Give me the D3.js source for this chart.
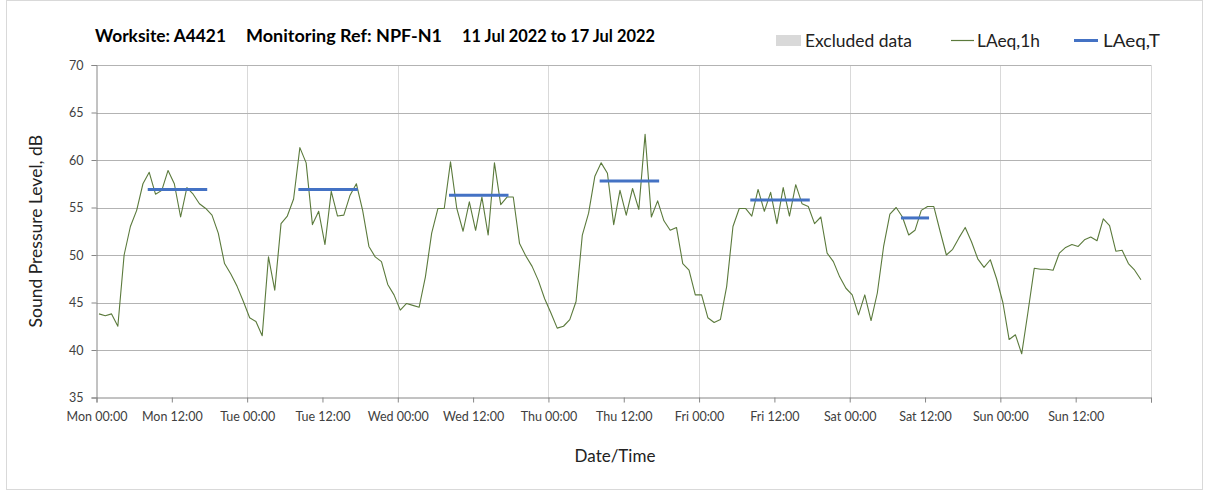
<!DOCTYPE html>
<html>
<head>
<meta charset="utf-8">
<script src="https://cdn.jsdelivr.net/npm/d3@7"></script>
<style>
  html, body { margin: 0; padding: 0; background: #fff; }
  svg { display: block; font-family: Lato, "Open Sans", sans-serif; }
</style>
</head>
<body>
<svg id="chart" width="1208" height="492"></svg>
<script>
// ---------- data ----------
const titleParts = ["Worksite: A4421", "Monitoring Ref: NPF-N1", "11 Jul 2022 to 17 Jul 2022"];
const dayNames = ["Mon", "Tue", "Wed", "Thu", "Fri", "Sat", "Sun"];
const tickHours = [0, 12, 24, 36, 48, 60, 72, 84, 96, 108, 120, 132, 144, 156];
const tickLabels = ["Mon 00:00", "Mon 12:00", "Tue 00:00", "Tue 12:00", "Wed 00:00", "Wed 12:00",
  "Thu 00:00", "Thu 12:00", "Fri 00:00", "Fri 12:00", "Sat 00:00", "Sat 12:00", "Sun 00:00", "Sun 12:00"];
const yTicks = [35, 40, 45, 50, 55, 60, 65, 70];
const legendLabels = ["Excluded data", "LAeq,1h", "LAeq,T"];

// hourly LAeq,1h values (dB), Mon 00:00 onward
const laeq1h = [
  43.8,43.6,43.8,42.5,50.0,53.0,54.7,57.5,58.7,56.4,56.8,58.9,57.5,54.0,57.1,56.4,55.4,54.9,54.2,52.3,49.1,48.0,46.7,45.1,
  43.4,43.0,41.5,49.8,46.3,53.3,54.1,55.9,61.3,59.7,53.2,54.6,51.1,56.7,54.1,54.2,56.3,57.5,54.7,50.9,49.8,49.3,46.9,45.8,
  44.2,44.9,44.7,44.5,47.7,52.3,54.9,54.9,59.8,54.9,52.5,55.6,52.6,56.1,52.1,59.7,55.3,56.1,56.1,51.2,49.9,48.8,47.3,45.4,
  43.9,42.3,42.5,43.2,45.1,52.1,54.4,58.3,59.7,58.6,53.2,56.8,54.2,57.0,54.8,62.7,54.0,55.7,53.6,52.6,52.9,49.1,48.4,45.8,
  45.8,43.4,42.9,43.2,46.7,53.0,54.9,54.9,54.1,56.9,54.6,56.6,53.3,57.1,54.1,57.4,55.4,55.1,53.3,54.0,50.2,49.3,47.7,46.5,
  45.8,43.7,45.8,43.1,46.0,50.9,54.3,55.0,54.0,52.1,52.6,54.7,55.1,55.1,52.5,50.0,50.6,51.8,52.9,51.4,49.6,48.7,49.5,47.5,
  45.0,41.1,41.6,39.6,44.0,48.6,48.5,48.5,48.4,50.2,50.8,51.1,50.9,51.6,51.9,51.5,53.8,53.1,50.4,50.5,49.1,48.4,47.4
];

// LAeq,T periods: start hour index, end hour index, value
const laeqTStart = [8, 32, 56, 80, 104, 128];
const laeqTEnd   = [17, 41, 65, 89, 113, 132];
const laeqTValue = [56.9, 56.9, 56.3, 57.8, 55.8, 53.9];

// ---------- layout ----------
const plot = { left: 96.5, right: 1151, top: 65, bottom: 397.5 };
const pointOffset = 0.4; // hourly points plotted slightly after the hour

const svg = d3.select("#chart");
svg.append("rect").attr("x", 6.5).attr("y", 0.5).attr("width", 1196).attr("height", 489)
  .attr("fill", "#fff").attr("stroke", "#d9d9d9");

const x = d3.scaleLinear().domain([0, 168]).range([plot.left, plot.right]);
const y = d3.scaleLinear().domain([35, 70]).range([plot.bottom, plot.top]);

// vertical day gridlines
const dayHours = dayNames.map((d, i) => i * 24).concat([168]);
svg.append("g").selectAll("line").data(dayHours.slice(1)).join("line")
  .attr("x1", d => Math.round(x(d)) + 0.5).attr("x2", d => Math.round(x(d)) + 0.5)
  .attr("y1", plot.top).attr("y2", plot.bottom)
  .attr("stroke", "#d9d9d9").attr("stroke-width", 1);

// horizontal gridlines
svg.append("g").selectAll("line").data(yTicks.slice(1)).join("line")
  .attr("x1", plot.left).attr("x2", plot.right)
  .attr("y1", d => Math.round(y(d)) + 0.5).attr("y2", d => Math.round(y(d)) + 0.5)
  .attr("stroke", "#b3b3b3").attr("stroke-width", 1);

// y axis
const yAxis = d3.axisLeft(y).tickValues(yTicks).tickSize(5).tickPadding(8).tickFormat(d3.format("d"));
const gy = svg.append("g").attr("transform", `translate(${plot.left},0)`).call(yAxis);
gy.select(".domain").attr("stroke", "#868686");
gy.selectAll(".tick line").attr("stroke", "#868686");
gy.selectAll(".tick text").attr("fill", "#404040").attr("font-size", 12.5)
  .attr("font-family", "Lato, sans-serif");

// x axis
const xAxis = d3.axisBottom(x).tickValues(tickHours.concat([168])).tickSize(5).tickPadding(10)
  .tickFormat(d => { const i = tickHours.indexOf(d); return i >= 0 ? tickLabels[i] : ""; });
const gx = svg.append("g").attr("transform", `translate(0,${plot.bottom})`).call(xAxis);
gx.select(".domain").attr("stroke", "#868686");
gx.selectAll(".tick line").attr("stroke", "#868686");
gx.selectAll(".tick text").attr("fill", "#404040").attr("font-size", 12.5)
  .attr("font-family", "Lato, sans-serif");

// LAeq,1h line
const line = d3.line().x((d, i) => x(i + pointOffset)).y(d => y(d));
svg.append("path").datum(laeq1h).attr("d", line)
  .attr("fill", "none").attr("stroke", "#5b7a3c").attr("stroke-width", 1.1)
  .attr("stroke-linejoin", "round");

// LAeq,T segments
svg.append("g").selectAll("line").data(laeqTValue).join("line")
  .attr("x1", (d, i) => x(laeqTStart[i] + pointOffset))
  .attr("x2", (d, i) => x(laeqTEnd[i] + pointOffset))
  .attr("y1", d => y(d)).attr("y2", d => y(d))
  .attr("stroke", "#4472c4").attr("stroke-width", 3).attr("stroke-linecap", "square");

// titles
const titleX = [95, 246, 462];
const titleW = [131, 196, 193];
svg.append("g").selectAll("text").data(titleParts).join("text")
  .attr("x", (d, i) => titleX[i]).attr("y", 42)
  .attr("font-size", 16.5).attr("font-weight", "bold").attr("fill", "#000")
  .attr("textLength", (d, i) => titleW[i]).attr("lengthAdjust", "spacingAndGlyphs")
  .text(d => d);

svg.append("text").attr("transform", `translate(42,${(plot.top + plot.bottom) / 2}) rotate(-90)`)
  .attr("text-anchor", "middle").attr("font-size", 17.5).attr("fill", "#222")
  .text("Sound Pressure Level, dB");

svg.append("text").attr("x", 615).attr("y", 462).attr("text-anchor", "middle")
  .attr("font-size", 17).attr("fill", "#222").text("Date/Time");

// legend
const lg = svg.append("g").attr("font-size", 17).attr("fill", "#222");
lg.append("rect").attr("x", 776).attr("y", 35).attr("width", 25).attr("height", 11).attr("fill", "#d9d9d9");
lg.append("line").attr("x1", 951).attr("x2", 974).attr("y1", 40.5).attr("y2", 40.5)
  .attr("stroke", "#5b7a3c").attr("stroke-width", 1.2);
lg.append("line").attr("x1", 1074).attr("x2", 1098).attr("y1", 40.5).attr("y2", 40.5)
  .attr("stroke", "#4472c4").attr("stroke-width", 3);
const legX = [805, 977, 1103];
const legW = [107, 63, 57];
lg.selectAll("text").data(legendLabels).join("text")
  .attr("x", (d, i) => legX[i]).attr("y", 47)
  .attr("textLength", (d, i) => legW[i]).attr("lengthAdjust", "spacingAndGlyphs")
  .text(d => d);
</script>
</body>
</html>
